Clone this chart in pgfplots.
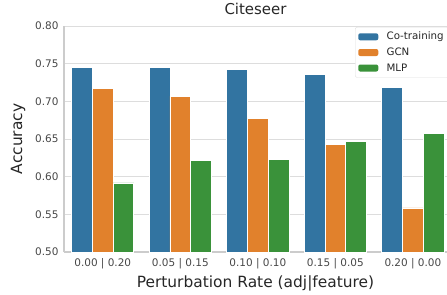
\documentclass[border=0pt]{standalone}
\usepackage{pgfplots}
\pgfplotsset{compat=1.18}
\usepackage{fontspec}
\setmainfont{DejaVu Sans}
\definecolor{cblue}{HTML}{3274A1}
\definecolor{corange}{HTML}{E1812C}
\definecolor{cgreen}{HTML}{3A923A}
\definecolor{spine}{HTML}{CCCCCC}
\definecolor{gridc}{HTML}{DDDDDD}
\definecolor{txt}{HTML}{262626}
\begin{document}
\begin{tikzpicture}
\begin{axis}[
  scale only axis,
  width=383bp, height=226bp,
  xmin=-0.5, xmax=4.44,
  ymin=0.5, ymax=0.8,
  ybar=0pt,
  bar width=0.267,
  xtick={0,1,2,3,4},
  xticklabels={0.00 | 0.20, 0.05 | 0.15, 0.10 | 0.10, 0.15 | 0.05, 0.20 | 0.00},
  ytick={0.5,0.55,0.6,0.65,0.7,0.75,0.8},
  yticklabels={0.50,0.55,0.60,0.65,0.70,0.75,0.80},
  major tick length=0pt,
  tick label style={font=\fontsize{10.5}{12}\selectfont, text=txt!85},
  xtick style={draw=none}, ytick style={draw=none},
  ymajorgrids, grid style={gridc, line width=0.9pt},
  axis line style={spine, line width=1.1pt},
  axis x line*=bottom, axis y line*=left,
  separate axis lines,
  title={Citeseer},
  title style={font=\fontsize{15}{17}\selectfont, text=txt, at={(axis description cs:0.5,1)}, anchor=base, yshift=6bp},
  xlabel={Perturbation Rate (adj|feature)},
  ylabel={Accuracy},
  label style={font=\fontsize{15.5}{17}\selectfont, text=txt},
  xlabel style={at={(axis description cs:0.5,0)}, anchor=center, yshift=-31bp},
  ylabel style={at={(axis description cs:0,0.5)}, anchor=center, yshift=46bp},
  xticklabel style={yshift=-3bp},
  yticklabel style={xshift=-2bp},
  legend style={at={(rel axis cs:0.76,1)}, anchor=north west, yshift=-1bp,
    draw=gridc, rounded corners=2pt, font=\fontsize{10.3}{12}\selectfont,
    text=txt, row sep=2.5pt, inner xsep=3pt, inner ysep=3pt},
  legend image code/.code={\draw[#1, draw=none] (0bp,-3.5bp) rectangle (20bp,3.5bp); \path (26bp,0bp);},
  legend cell align=left,
  clip=true,
]
\addplot[fill=cblue, draw=white, line width=0.7pt, bar shift=-0.267] coordinates {(0,0.7455) (1,0.7455) (2,0.7424) (3,0.7354) (4,0.718)};
\addplot[fill=corange, draw=white, line width=0.7pt, bar shift=0] coordinates {(0,0.7167) (1,0.707) (2,0.6773) (3,0.6427) (4,0.5585)};
\addplot[fill=cgreen, draw=white, line width=0.7pt, bar shift=0.267] coordinates {(0,0.5917) (1,0.6214) (2,0.6227) (3,0.647) (4,0.6573)};
\legend{Co-training, GCN, MLP}
\end{axis}
\pgfresetboundingbox
\path[use as bounding box] (current axis.south west) ++(-64bp,-43bp) rectangle ([yshift=26bp]current axis.north east);
\end{tikzpicture}
\end{document}
